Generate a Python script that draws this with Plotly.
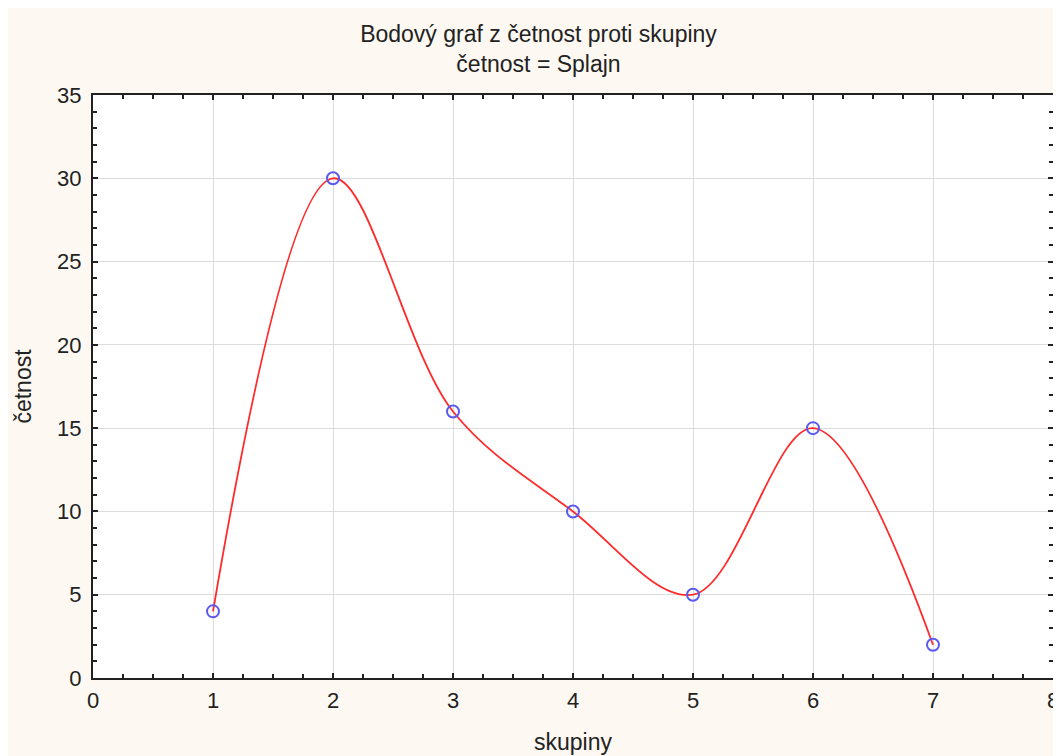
import plotly.graph_objects as go

skupiny = [1, 2, 3, 4, 5, 6, 7]
cetnost = [4, 30, 16, 10, 5, 15, 2]
x_ticks = [0, 1, 2, 3, 4, 5, 6, 7, 8]
y_ticks = [0, 5, 10, 15, 20, 25, 30, 35]

W, H = 1061, 756
L, R, T, B = 85, 16, 87, 86

FONT = "Liberation Sans, Arial, sans-serif"

fig = go.Figure()
fig.add_trace(go.Scatter(
    x=skupiny, y=cetnost, mode="lines",
    line=dict(color="#ff2a2a", width=1.8, shape="spline", smoothing=1.0),
    hoverinfo="skip", showlegend=False))
fig.add_trace(go.Scatter(
    x=skupiny, y=cetnost, mode="markers",
    marker=dict(symbol="circle-open", size=12, color="#5a5af0",
                line=dict(width=2, color="#5a5af0")),
    showlegend=False))

axis_common = dict(
    showline=True, linewidth=2, linecolor="#222", mirror="allticks",
    ticks="inside", ticklen=5, tickwidth=1.5, tickcolor="#222",
    showgrid=True, gridcolor="#dcdcdc", gridwidth=1,
    zeroline=False,
    tickfont=dict(family=FONT, size=22, color="#222"),
)

fig.update_xaxes(range=[0, 8], tickvals=x_ticks, **axis_common,
                 ticklabelstandoff=2,
                 minor=dict(ticks="inside", dtick=0.25, tick0=0, ticklen=4,
                            tickwidth=1.5, tickcolor="#222", showgrid=False),
                 title=dict(text="skupiny", font=dict(family=FONT, size=23, color="#222"),
                            standoff=21))
fig.update_yaxes(range=[0, 35], tickvals=y_ticks, **axis_common,
                 ticklabelstandoff=5,
                 minor=dict(ticks="inside", dtick=1, tick0=0, ticklen=4,
                            tickwidth=1.5, tickcolor="#222", showgrid=False),
                 title=dict(text="četnost", font=dict(family=FONT, size=23, color="#222"),
                            standoff=19))

fig.update_layout(
    width=W, height=H,
    margin=dict(l=L, r=R, t=T, b=B, autoexpand=False),
    paper_bgcolor="#fdf9f2", plot_bgcolor="white",
    title=dict(text="Bodový graf z četnost proti skupiny<br>četnost = Splajn",
               x=0.5, xanchor="center", y=1 - 34 / H, yanchor="top",
               font=dict(family=FONT, size=23, color="#222")),
)

fig.write_html("out.html")
